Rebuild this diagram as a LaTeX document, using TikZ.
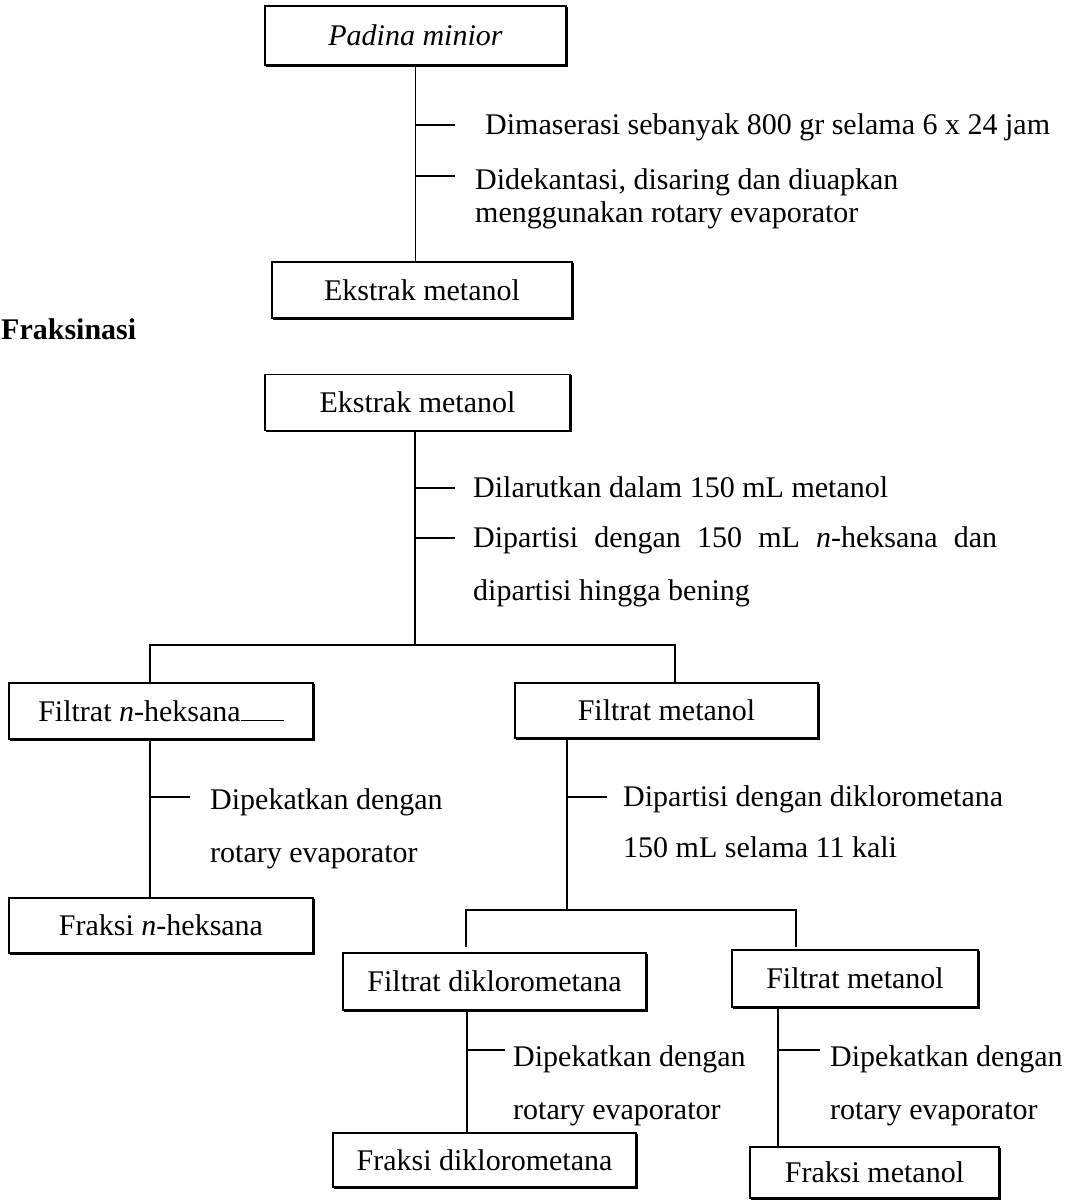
\documentclass[tikz,border=0pt]{standalone}
\usepackage{fontspec}
\setmainfont{Liberation Serif}
\usetikzlibrary{shadows}

\tikzset{
  kotak/.style={draw, fill=white, line width=1.4pt, inner sep=0pt,
    copy shadow={shadow xshift=1.2pt, shadow yshift=-1.2pt}},
  ket/.style={anchor=base west, inner sep=0pt},
  garis/.style={line width=1.1pt}
}

\begin{document}
\begin{tikzpicture}[x=1pt, y=-1pt, font=\fontsize{30}{36}\selectfont]
    \useasboundingbox (0,0) rectangle (1072,1200);

    % Ekstraksi
    \node[kotak, minimum width=301pt, minimum height=59pt] (padina) at (415.5,35.5) {\textit{Padina minior}};
    \node[kotak, minimum width=300pt, minimum height=56pt] (ekstrakA) at (422,290) {Ekstrak metanol};
    \draw[garis] (padina.south) -- (padina.south |- ekstrakA.north);

    \coordinate (c1) at (415,125);
    \coordinate (c2) at (415,176);
    \draw[garis] (c1) -- ++(40,0);
    \draw[garis] (c2) -- ++(40,0);
    \node[ket] (maserasi) at (485,134) {Dimaserasi sebanyak 800 gr selama 6 x 24 jam};
    \node[ket] (dekantasi) at (475,189) {Didekantasi, disaring dan diuapkan};
    \node[ket] (dekantasi2) at (475,222) {menggunakan rotary evaporator};

    % Fraksinasi
    \node[ket] (judul) at (1,339) {\bfseries Fraksinasi};
    \node[kotak, minimum width=305pt, minimum height=56pt] (ekstrakB) at (417.5,402.5) {Ekstrak metanol};
    \coordinate (cabang1) at (415,645);
    \draw[garis] (ekstrakB.south -| cabang1) -- (cabang1);

    \coordinate (c3) at (415,488);
    \coordinate (c4) at (415,538);
    \draw[garis] (c3) -- ++(40,0);
    \draw[garis] (c4) -- ++(40,0);
    \node[ket] (larut) at (473,497) {Dilarutkan dalam 150 mL metanol};
    \node[ket] (partisi) at (473,547) {\makebox[524pt][s]{Dipartisi dengan 150 mL \textit{n}-heksana dan}};
    \node[ket] (partisi2) at (473,600) {dipartisi hingga bening};

    \node[kotak, minimum width=304pt, minimum height=56pt] (filtratH) at (161,711) {Filtrat \textit{n}-heksana\rule{43pt}{1pt}};
    \node[kotak, minimum width=303pt, minimum height=55pt] (filtratM) at (666.5,710.5) {Filtrat metanol};
    \coordinate (kiri) at (150,645);
    \draw[garis] (filtratH.north -| kiri) |- (cabang1) -| (filtratM.north -| 675,0);

    % cabang n-heksana
    \node[kotak, minimum width=304pt, minimum height=55pt] (fraksiH) at (161,925.5) {Fraksi \textit{n}-heksana};
    \draw[garis] (filtratH.south -| kiri) -- (fraksiH.north -| kiri);
    \coordinate (c5) at (150,797);
    \draw[garis] (c5) -- ++(40,0);
    \node[ket] (pekatH) at (210,809) {Dipekatkan dengan};
    \node[ket] (pekatH2) at (210,862) {rotary evaporator};

    % cabang metanol
    \coordinate (cabang2) at (567,910);
    \draw[garis] (filtratM.south -| cabang2) -- (cabang2);
    \coordinate (c6) at (567,797);
    \draw[garis] (c6) -- ++(40,0);
    \node[ket] (partisiD) at (623,806) {Dipartisi dengan diklorometana};
    \node[ket] (partisiD2) at (623,857) {150 mL selama 11 kali};

    \node[kotak, minimum width=303pt, minimum height=57pt] (filtratD) at (494.5,981.5) {Filtrat diklorometana};
    \node[kotak, minimum width=246pt, minimum height=57pt] (filtratM2) at (855,978.5) {Filtrat metanol};
    \coordinate (ujungD) at (466,947);
    \coordinate (ujungM) at (796,947);
    \draw[garis] (ujungD) |- (cabang2) -| (ujungM);

    % fraksi akhir
    \node[kotak, minimum width=303pt, minimum height=54pt] (fraksiD) at (484.5,1160) {Fraksi diklorometana};
    \node[kotak, minimum width=249pt, minimum height=51pt] (fraksiM) at (874.5,1172.5) {Fraksi metanol};
    \draw[garis] (filtratD.south -| 467,0) -- (fraksiD.north -| 467,0);
    \draw[garis] (filtratM2.south -| 778,0) -- (fraksiM.north -| 778,0);

    \coordinate (c7) at (467,1050);
    \coordinate (c8) at (778,1050);
    \draw[garis] (c7) -- ++(38,0);
    \draw[garis] (c8) -- ++(42,0);
    \node[ket] (pekatD) at (513,1066) {Dipekatkan dengan};
    \node[ket] (pekatD2) at (513,1119) {rotary evaporator};
    \node[ket] (pekatM) at (830,1066) {Dipekatkan dengan};
    \node[ket] (pekatM2) at (830,1119) {rotary evaporator};
\end{tikzpicture}
\end{document}
